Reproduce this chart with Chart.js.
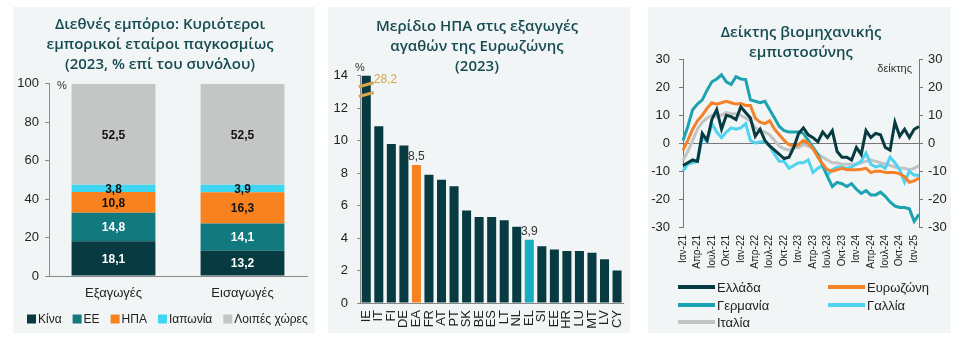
<!DOCTYPE html>
<html>
<head>
<meta charset="utf-8">
<script src="https://cdn.jsdelivr.net/npm/chart.js@4"></script>
<style>
  body { margin: 0; background: #fff; width: 964px; height: 342px; position: relative; overflow: hidden; }
  .panel { position: absolute; background: #f2f5f5; }
  .panel canvas { position: absolute; left: 0; top: 0; }
</style>
</head>
<body>
<div class="panel" style="left:13px;top:7px;width:302px;height:326px"><canvas id="tradeChart" width="302" height="330"></canvas></div>
<div class="panel" style="left:328px;top:7px;width:302px;height:326px"><canvas id="usShareChart" width="312" height="331"></canvas></div>
<div class="panel" style="left:648px;top:7px;width:303px;height:326px"><canvas id="confChart" width="306" height="330"></canvas></div>
<script>
// --- trade partners (2023, % of total)
const tradeCats = ['Εξαγωγές', 'Εισαγωγές'];
const china = [18.1, 13.2];
const eu = [14.8, 14.1];
const usa = [10.8, 16.3];
const japan = [3.8, 3.9];
const others = [52.5, 52.5];

// --- US share of euro area goods exports (2023)
const countries = ['IE','IT','FI','DE','EA','FR','AT','PT','SK','BE','ES','LT','NL','EL','SI','EE','HR','LU','MT','LV','CY'];
const usShare = [28.2, 10.9, 9.8, 9.7, 8.5, 7.9, 7.6, 7.2, 5.7, 5.3, 5.3, 5.1, 4.7, 3.9, 3.5, 3.3, 3.2, 3.2, 3.1, 2.7, 2.0];

// --- industrial confidence, Jan-21 .. Feb-25
const monthNames = ['Ιαν','Φεβ','Μαρ','Απρ','Μαΐ','Ιουν','Ιουλ','Αυγ','Σεπ','Οκτ','Νοε','Δεκ'];
const years = ['21','22','23','24','25'];
const greece = [-8,-7,-6,-6.5,3.5,1,8.5,12,5,10,9.5,8.5, 13,11,9,2.5,5,1,-1,-2.5,-4,-5.5,-5,-1.5,
  3.5,5.5,3,2,0.5,4,2,4.5,-3,-5,-5,-6, -1.5,-4,4.5,2,3.5,3,-1.5,-2.5,7.5,2.5,5,2, 5,6];
const eurozone = [-2.5,1,5,8,10,12.5,14.5,14,14.5,15,14.5,14, 14.2,13.5,13.5,9,7.5,7,8,5,3,1,-0.5,-1,
  -0.5,1,0,-2,-5,-7.5,-9.5,-10,-9.5,-9,-9.5,-9.5, -9.5,-9.3,-9,-10.5,-10,-10,-10.5,-10.5,-10.5,-11,-12,-14, -13.5,-12.5];
const germany = [1,6,12,14,15.5,19,22,23,24.5,22,21,23.8, 23,22.8,15.5,15,14.5,15,12,9,6,4.5,4,4,
  4,3.5,1,-1.5,-4,-8,-12,-15.5,-14,-14.5,-15.5,-14.5, -16.5,-18,-17,-18.5,-18.5,-17.5,-19,-21,-22.5,-23,-23,-23.5, -28,-25.5];
const france = [-10,-7.5,-7,-6.5,2,0.5,7,4,2,4,5.5,5, 5.5,7,1,0,0.5,0.5,-1,-4,-6.5,-6.5,-9,-8,
  -7,-7,-6,-10.5,-9,-8,-11.5,-9.5,-8.5,-8.5,-9,-8.5, -7.5,-6.5,-3.5,-7.5,-8.5,-8,-9,-5,-7,-9.5,-14,-10, -11.5,-11.5];
const italy = [-6,-3,1,5,7.5,9,10,9.5,10,11,10.5,10.5, 10,9,8,5.5,4.5,4,3,1,-1,-2,-2.5,-1.5,
  -1.5,-0.5,-1,-2,-4,-5,-6,-7,-7,-7.5,-7.5,-7.5, -7.5,-7,-6.5,-6,-6.5,-7,-7.5,-8,-8.5,-9,-9,-9.5, -9,-8];

const months = [];
years.forEach(y => monthNames.forEach(m => months.push(m + '-' + y)));
months.length = greece.length;

const FONT = "'Liberation Sans', Arial, sans-serif";
Chart.defaults.font.family = FONT;
Chart.defaults.color = '#222';
Chart.defaults.animation = false;
Chart.defaults.plugins.tooltip.enabled = false;

const titleColor = '#154b51';
const titleFont = { family: "'Open Sans', 'Liberation Sans', sans-serif", size: 15, weight: '600', lineHeight: 1.33 };
const axisGrey = '#8a8a8a';
const dark = '#073b41';
const orange = '#f7821f';

function fmt(v) { return v.toFixed(1).replace('.', ','); }
// fixed axis sizes so every panel keeps the same plot box
const fixW = w => (axis => { axis.width = w; });
const fixH = h => (axis => { axis.height = h; });

// value labels in the middle of each stacked segment + square legend in one row
const stackLabels = {
  id: 'stackLabels',
  afterDraw(chart) {
    const ctx = chart.ctx;
    ctx.save();
    ctx.font = 'bold 12px ' + FONT;
    ctx.textAlign = 'center';
    ctx.textBaseline = 'middle';
    chart.data.datasets.forEach((ds, i) => {
      chart.getDatasetMeta(i).data.forEach((bar, j) => {
        ctx.fillStyle = ds.labelColor;
        ctx.fillText(fmt(ds.data[j]), bar.x, (bar.y + bar.base) / 2 + 1);
      });
    });
    ctx.font = '11px ' + FONT;
    ctx.fillStyle = '#333';
    ctx.fillText('%', chart.chartArea.left + 13, chart.chartArea.top + 2);

    ctx.font = '12px ' + FONT;
    ctx.textAlign = 'left';
    let x = 14;
    const y = 312;
    chart.data.datasets.forEach(ds => {
      ctx.fillStyle = ds.backgroundColor;
      ctx.fillRect(x, y - 4.5, 9, 9);
      ctx.fillStyle = '#222';
      ctx.fillText(ds.label, x + 11, y + 1);
      x += 11 + ctx.measureText(ds.label).width + 11;
    });
    ctx.restore();
  }
};

new Chart(document.getElementById('tradeChart'), {
  type: 'bar',
  data: {
    labels: tradeCats,
    datasets: [
      { label: 'Κίνα', data: china, backgroundColor: dark, labelColor: '#fff' },
      { label: 'ΕΕ', data: eu, backgroundColor: '#12797f', labelColor: '#fff' },
      { label: 'ΗΠΑ', data: usa, backgroundColor: orange, labelColor: '#111' },
      { label: 'Ιαπωνία', data: japan, backgroundColor: '#3fd6f2', labelColor: '#111' },
      { label: 'Λοιπές χώρες', data: others, backgroundColor: '#c4c6c6', labelColor: '#111' }
    ]
  },
  options: {
    responsive: false,
    barPercentage: 0.65,
    categoryPercentage: 1,
    layout: { padding: { left: 0, right: 8, top: 0, bottom: 0 } },
    plugins: {
      title: {
        display: true,
        text: ['Διεθνές εμπόριο: Κυριότεροι', 'εμπορικοί εταίροι παγκοσμίως', '(2023, % επί του συνόλου)'],
        color: titleColor,
        font: titleFont,
        padding: { top: 8, bottom: 9 }
      },
      legend: { display: false }
    },
    scales: {
      x: {
        stacked: true,
        afterFit: fixH(61),
        grid: { display: false, drawTicks: false },
        border: { display: true, color: axisGrey },
        ticks: { padding: 10, font: { size: 13 } }
      },
      y: {
        stacked: true,
        min: 0, max: 100,
        afterFit: fixW(36),
        grid: { drawOnChartArea: false, tickLength: 4, tickColor: axisGrey },
        border: { display: true, color: axisGrey },
        ticks: { stepSize: 20, padding: 6, font: { size: 13 } }
      }
    }
  },
  plugins: [stackLabels]
});

// axis break on the first bar plus the few value labels
const shareLabels = {
  id: 'shareLabels',
  afterDatasetsDraw(chart) {
    const ctx = chart.ctx;
    const meta = chart.getDatasetMeta(0);
    const yScale = chart.scales.y;
    const area = chart.chartArea;
    ctx.save();
    const first = meta.data[0];
    ctx.strokeStyle = '#d6a84e';
    ctx.lineWidth = 3;
    [13.45, 12.85].forEach(v => {
      const py = yScale.getPixelForValue(v);
      ctx.beginPath();
      ctx.moveTo(first.x - first.width / 2 - 3, py + 2);
      ctx.lineTo(first.x + first.width / 2 + 3, py - 2);
      ctx.stroke();
    });
    ctx.font = '12px ' + FONT;
    ctx.textBaseline = 'middle';
    ctx.textAlign = 'left';
    ctx.fillStyle = '#d9a347';
    ctx.fillText(fmt(usShare[0]), first.x + first.width / 2 + 3, area.top + 4);
    ctx.textAlign = 'center';
    ctx.fillStyle = '#333';
    ['EA', 'EL'].forEach(c => {
      const i = countries.indexOf(c);
      const bar = meta.data[i];
      ctx.fillText(fmt(usShare[i]), bar.x, bar.y - 8);
    });
    ctx.font = '11px ' + FONT;
    ctx.fillText('%', area.left + 0, area.top - 8);
    ctx.restore();
  }
};

new Chart(document.getElementById('usShareChart'), {
  type: 'bar',
  data: {
    labels: countries,
    datasets: [{
      data: usShare,
      clip: 0,
      backgroundColor: countries.map(c => c === 'EA' ? orange : c === 'EL' ? '#17aec4' : dark),
      barPercentage: 0.72,
      categoryPercentage: 1
    }]
  },
  options: {
    responsive: false,
    layout: { padding: { left: 0, right: 14, top: 0, bottom: 0 } },
    plugins: {
      title: {
        display: true,
        text: ['Μερίδιο ΗΠΑ στις εξαγωγές', 'αγαθών της Ευρωζώνης', '(2023)'],
        color: titleColor,
        font: titleFont,
        padding: { top: 10, bottom: -1 }
      },
      legend: { display: false }
    },
    scales: {
      x: {
        afterFit: fixH(35),
        grid: { display: false, drawTicks: false },
        border: { display: true, color: axisGrey },
        ticks: { autoSkip: false, minRotation: 90, maxRotation: 90, padding: 7, font: { size: 13 } }
      },
      y: {
        min: 0, max: 14,
        afterFit: fixW(32),
        grid: { drawOnChartArea: false, tickLength: 3, tickColor: axisGrey },
        border: { display: true, color: axisGrey },
        ticks: { stepSize: 2, padding: 9, font: { size: 13 } }
      }
    }
  },
  plugins: [shareLabels]
});

// two-column line legend under the axis, plus the unit note
const confLegend = {
  id: 'confLegend',
  afterDraw(chart) {
    const ctx = chart.ctx;
    const area = chart.chartArea;
    ctx.save();
    ctx.font = '13px ' + FONT;
    ctx.textBaseline = 'middle';
    ctx.textAlign = 'left';
    const colX = [30, 180];
    const rowY = [280, 298, 315];
    chart.data.datasets.forEach((ds, i) => {
      const x = colX[i % 2];
      const y = rowY[Math.floor(i / 2)];
      ctx.strokeStyle = ds.borderColor;
      ctx.lineWidth = 4;
      ctx.beginPath();
      ctx.moveTo(x, y);
      ctx.lineTo(x + 37, y);
      ctx.stroke();
      ctx.fillStyle = '#222';
      ctx.fillText(ds.label, x + 39, y + 1);
    });
    ctx.font = '11px ' + FONT;
    ctx.textAlign = 'right';
    ctx.fillStyle = '#333';
    ctx.fillText('δείκτης', area.right - 7, area.top + 10);
    ctx.restore();
  }
};

const lineDs = (label, data, color) => ({
  label, data, borderColor: color, backgroundColor: color,
  borderWidth: 3, pointRadius: 0, tension: 0, fill: false
});

new Chart(document.getElementById('confChart'), {
  type: 'line',
  data: {
    labels: months,
    datasets: [
      lineDs('Ελλάδα', greece, dark),
      lineDs('Ευρωζώνη', eurozone, '#f4822a'),
      lineDs('Γερμανία', germany, '#1ba3b1'),
      lineDs('Γαλλία', france, '#4fd3ef'),
      lineDs('Ιταλία', italy, '#c3c3c3')
    ]
  },
  options: {
    responsive: false,
    layout: { padding: { left: 0, right: 0, top: 0, bottom: 0 } },
    plugins: {
      title: {
        display: true,
        text: ['Δείκτης βιομηχανικής', 'εμπιστοσύνης'],
        color: titleColor,
        font: titleFont,
        padding: { top: 16, bottom: -3.5 }
      },
      legend: { display: false }
    },
    scales: {
      x: {
        offset: false,
        afterFit: fixH(110),
        grid: { display: false, drawTicks: false },
        border: { display: false },
        ticks: {
          autoSkip: false, minRotation: 90, maxRotation: 90, padding: 8, font: { size: 10 },
          callback(val, i) { return i % 3 === 0 ? this.getLabelForValue(val) : ''; }
        }
      },
      y: {
        min: -30, max: 30,
        afterFit: fixW(35),
        grid: {
          color: c => c.tick && c.tick.value === 0 ? '#777' : 'transparent',
          tickColor: '#777', tickLength: 4
        },
        border: { display: true, color: '#777' },
        ticks: { stepSize: 10, padding: 9, font: { size: 13 } }
      },
      y2: {
        position: 'right',
        min: -30, max: 30,
        afterFit: fixW(35),
        grid: { drawOnChartArea: false, tickColor: '#777', tickLength: 4 },
        border: { display: true, color: '#777' },
        ticks: { stepSize: 10, padding: 5, font: { size: 13 } }
      }
    }
  },
  plugins: [confLegend]
});
</script>
</body>
</html>
